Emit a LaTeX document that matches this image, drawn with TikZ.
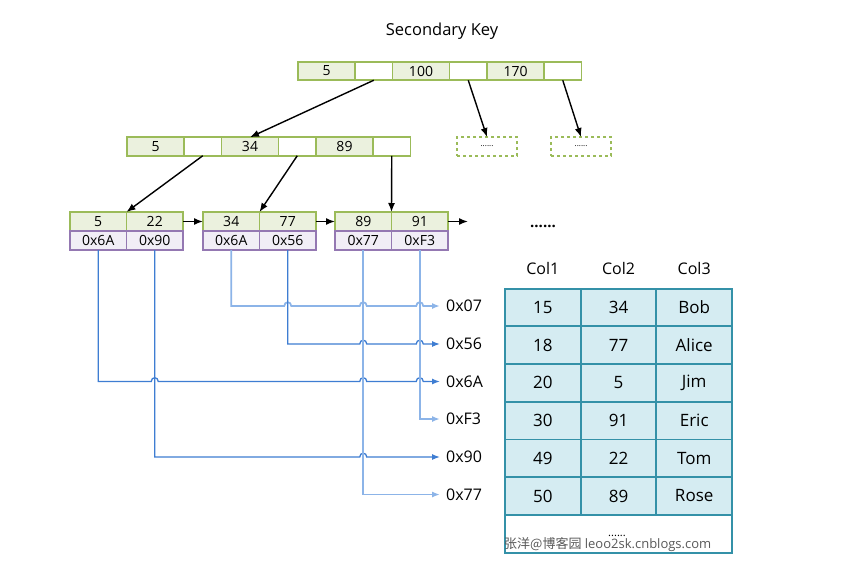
\documentclass[tikz,border=0pt]{standalone}
\usepackage{fontspec}
\setmainfont{Open Sans}
\newfontfamily\cjk{Noto Sans CJK SC}
\usepackage{tikz}
\usetikzlibrary{arrows.meta}
\usetikzlibrary{positioning}
\definecolor{keyline}{RGB}{155,187,89}
\definecolor{keyfill}{RGB}{235,241,222}
\definecolor{addrline}{RGB}{148,120,178}
\definecolor{addrfill}{RGB}{241,238,246}
\definecolor{tabline}{RGB}{52,145,168}
\definecolor{tabfill}{RGB}{213,236,242}
\definecolor{linkdark}{RGB}{62,125,210}
\definecolor{linklite}{RGB}{140,180,232}
\tikzset{>={Latex[length=9pt,width=7pt]}}
\tikzset{
    cell/.style={line width=1.8pt, inner sep=0pt, outer sep=0pt, minimum height=18.5pt, font=\fontsize{14}{14}\selectfont},
    keycell/.style={cell, draw=keyline, fill=keyfill, minimum width=57pt},
    ptrcell/.style={cell, draw=keyline, fill=white, minimum width=37.5pt},
    leafkey/.style={cell, draw=keyline, fill=keyfill, minimum width=56.5pt, minimum height=19pt},
    leafaddr/.style={cell, draw=addrline, fill=addrfill, minimum width=56.5pt, minimum height=19pt},
    morebox/.style={cell, draw=keyline, dashed, minimum width=60pt, minimum height=19pt, font=\fontsize{8}{8}\selectfont},
    treearrow/.style={->, line width=1.4pt, black},
    linkdarkline/.style={-{Latex[length=8pt,width=6pt]}, line width=1.3pt, linkdark},
    linkliteline/.style={-{Latex[length=8pt,width=6pt]}, line width=1.7pt, linklite},
    addrlabel/.style={anchor=west, inner xsep=6pt, inner ysep=0pt, font=\fontsize{16}{16}\selectfont},
    tabcell/.style={draw=tabline, fill=tabfill, line width=1.8pt, inner sep=0pt, minimum width=75.7pt, minimum height=37.7pt, font=\fontsize{17}{17}\selectfont},
    colhead/.style={font=\fontsize{16}{16}\selectfont},
}

\begin{document}
\begin{tikzpicture}[x=1pt,y=-1pt]
	\useasboundingbox (0,0) rectangle (864,573);
	\fill[white] (0,0) rectangle (864,573);
	\node[font=\fontsize{16.5}{16.5}\selectfont] (title) at (442,31) {Secondary Key};
	% root
	\node[keycell] (r1) at (326.5,71) {5};
	\node[ptrcell, right=0pt of r1] (r2) {};
	\node[keycell, right=0pt of r2] (r3) {100};
	\node[ptrcell, right=0pt of r3] (r4) {};
	\node[keycell, right=0pt of r4] (r5) {170};
	\node[ptrcell, right=0pt of r5] (r6) {};
	% second level
	\node[keycell] (m1) at (155.5,146.5) {5};
	\node[ptrcell, right=0pt of m1] (m2) {};
	\node[keycell, right=0pt of m2] (m3) {34};
	\node[ptrcell, right=0pt of m3] (m4) {};
	\node[keycell, right=0pt of m4] (m5) {89};
	\node[ptrcell, right=0pt of m5] (m6) {};
	\node[morebox] (d1) at (487,146.5) {......};
	\node[morebox] (d2) at (581,146.5) {......};
	% leaves
	\foreach \i/\x/\ka/\kb/\pa/\pb in {1/98.25/5/22/0x6A/0x90, 2/231.25/34/77/0x6A/0x56, 3/363.25/89/91/0x77/0xF3} {
		\node[leafkey] (k\i1) at (\x,221.5) {\ka};
		\node[leafkey, right=0pt of k\i1] (k\i2) {\kb};
		\node[leafaddr, below=0pt of k\i1] (p\i1) {\pa};
		\node[leafaddr, below=0pt of k\i2] (p\i2) {\pb};
	}
	\coordinate (next) at (468,221.5);
	\draw[treearrow] (r2.south) -- (m3.north);
	\draw[treearrow] (r4.south) -- (d1.north);
	\draw[treearrow] (r6.south) -- (d2.north);
	\draw[treearrow] (m2.south) -- (k11.north east);
	\draw[treearrow] (m4.south) -- (k21.north east);
	\draw[treearrow] (m6.south) -- (k31.north east);
	\draw[treearrow] (k12.east) -- (k21.west);
	\draw[treearrow] (k22.east) -- (k31.west);
	\draw[treearrow] (k32.east) -- (next);
	% addresses
	\node[addrlabel] (a07) at (440,306) {0x07};
	\node[addrlabel] (a56) at (440,344) {0x56};
	\node[addrlabel] (a6A) at (440,381.5) {0x6A};
	\node[addrlabel] (aF3) at (440,419) {0xF3};
	\node[addrlabel] (a90) at (440,457) {0x90};
	\node[addrlabel] (a77) at (440,494.5) {0x77};
	\draw[linkliteline] (p21.south) |- ({287.75-3.5},306) foreach \hx in {287.75,363.25,419.75} { -- ({\hx-3.5},306) .. controls ({\hx-3.5},301) and ({\hx+3.5},301) .. ({\hx+3.5},306) } -- (a07.west);
	\draw[linkdarkline] (p22.south) |- ({363.25-3.5},344) foreach \hx in {363.25,419.75} { -- ({\hx-3.5},344) .. controls ({\hx-3.5},339) and ({\hx+3.5},339) .. ({\hx+3.5},344) } -- (a56.west);
	\draw[linkdarkline] (p11.south) |- ({154.75-3.5},381.5) foreach \hx in {154.75,363.25,419.75} { -- ({\hx-3.5},381.5) .. controls ({\hx-3.5},376.5) and ({\hx+3.5},376.5) .. ({\hx+3.5},381.5) } -- (a6A.west);
	\draw[linkliteline] (p32.south) |- (aF3.west);
	\draw[linkdarkline] (p12.south) |- ({363.25-3.5},457) .. controls ({363.25-3.5},452) and ({363.25+3.5},452) .. ({363.25+3.5},457) -- (a90.west);
	\draw[linkliteline] (p31.south) |- (a77.west);
	% table
	\node[font=\bfseries\fontsize{15}{15}\selectfont] (dots) at (543,226) {......};
	\node[colhead] (c1) at (542.8,268) {Col1};
	\node[colhead] (c2) at (618.5,268) {Col2};
	\node[colhead] (c3) at (694.2,268) {Col3};
	\foreach \a/\b/\c [count=\i from 0] in {15/34/Bob, 18/77/Alice, 20/5/Jim, 30/91/Eric, 49/22/Tom, 50/89/Rose} {
		\node[tabcell] (t\i a) at (542.8,{307.5+37.7*\i}) {\a};
		\node[tabcell] (t\i b) at (618.5,{307.5+37.7*\i}) {\b};
		\node[tabcell] (t\i c) at (694.2,{307.5+37.7*\i}) {\c};
	}
	\node[draw=tabline, fill=white, line width=1.8pt, minimum width=227pt, minimum height=38pt, inner sep=0pt] (tmore) at (618.5,534) {};
	\node[font=\fontsize{11}{11}\selectfont] (tdots) at (617,536) {......};
	\node[anchor=west, inner sep=0pt, text=black!65, font=\fontsize{13}{13}\selectfont] (mark) at (504,545) {{\cjk 张洋@博客园} leoo2sk.cnblogs.com};
\end{tikzpicture}
\end{document}
